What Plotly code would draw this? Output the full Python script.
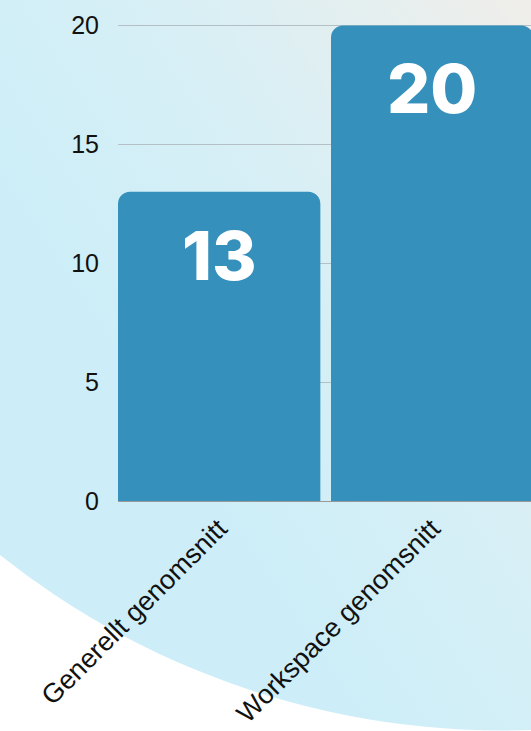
import base64
import plotly.graph_objects as go

categories = ["Generellt genomsnitt", "Workspace genomsnitt"]
values = [13, 20]
y_ticks = [0, 5, 10, 15, 20]

W, H = 531, 731
ML, MR, MT, MB = 118, 0, 23, 230
PW, PH = W - ML - MR, H - MT - MB

svg = f"""<svg xmlns='http://www.w3.org/2000/svg' width='{W}' height='{H}' viewBox='0 0 {W} {H}'>
<defs><linearGradient id='g' gradientUnits='userSpaceOnUse' x1='80' y1='300' x2='531' y2='0'>
<stop offset='0' stop-color='#cdeef8'/><stop offset='0.45' stop-color='#d8eff5'/><stop offset='1' stop-color='#f0eeea'/></linearGradient></defs>
<rect width='{W}' height='{H}' fill='#ffffff'/>
<circle cx='502.5' cy='-76.5' r='807' fill='url(#g)'/>
</svg>"""
src = "data:image/svg+xml;base64," + base64.b64encode(svg.encode()).decode()

bar_color = "#3591bb"

fig = go.Figure(go.Bar(
    x=categories, y=values, marker=dict(color=bar_color, cornerradius=12, line=dict(width=0)),
    hoverinfo="skip",
))

for c, v in zip(categories, values):
    fig.add_annotation(x=c, y=v, text=str(v), showarrow=False, yanchor="middle", yshift=-63,
                       font=dict(family="Inter", size=68, color="white", weight=800))

fig.update_layout(
    width=W, height=H,
    margin=dict(l=ML, r=MR, t=MT, b=MB, pad=0),
    paper_bgcolor="white", plot_bgcolor="rgba(0,0,0,0)",
    bargap=0.05, showlegend=False,
    font=dict(family="Liberation Sans, Arial", size=25, color="#111111"),
    images=[dict(source=src, xref="paper", yref="paper", x=-ML / PW, y=1 + MT / PH,
                 sizex=W / PW, sizey=H / PH, xanchor="left", yanchor="top",
                 sizing="stretch", layer="below")],
)
fig.update_xaxes(range=[-0.475, 1.464], tickangle=-45, showgrid=False, showline=True,
                 linecolor="#999999", linewidth=1, ticks="", tickfont=dict(size=27))
fig.update_yaxes(range=[0, 20.1], tickvals=y_ticks, showgrid=True, gridcolor="#b4c0c5", gridwidth=1,
                 zeroline=False, ticks="", ticklabelstandoff=18, tickfont=dict(size=25))

fig.write_html("out.html", config={"displayModeBar": False},
               post_script="document.body.style.margin='0';document.body.style.padding='0';")
